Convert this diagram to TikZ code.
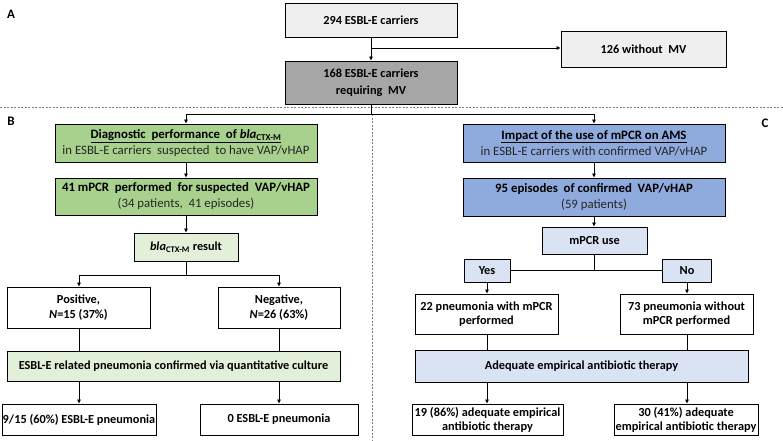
\documentclass[tikz,border=0pt]{standalone}
\usepackage{fontspec}
\setmainfont{Carlito}
\usetikzlibrary{arrows.meta,calc}
\definecolor{lgray}{HTML}{EFEFEF}
\definecolor{dgray}{HTML}{A6A6A6}
\definecolor{grn}{HTML}{A9D18E}
\definecolor{lgrn}{HTML}{E2F0D9}
\definecolor{blu}{HTML}{8FAADC}
\definecolor{lblu}{HTML}{DAE3F3}
\definecolor{subtxt}{HTML}{262626}
\tikzset{
  box/.style={draw=black, line width=1pt, align=center, inner sep=0pt, text=black,
    font=\bfseries\fontsize{12.3}{14}\selectfont},
  big/.style={font=\fontsize{12.8}{16}\selectfont},
  arr/.style={-{Triangle[length=4pt,width=3.5pt]}, line width=0.9pt},
  ln/.style={line width=0.9pt},
  sep/.style={draw=gray, line width=0.6pt, dash pattern=on 2pt off 1.5pt},
  lab/.style={font=\bfseries\fontsize{13}{15}\selectfont, text=black, inner sep=0pt},
}
\newcommand{\blaC}{\textit{bla}\textsubscript{CTX-M}}
\begin{document}
\begin{tikzpicture}[x=1pt,y=-1pt]
\useasboundingbox[fill=white] (0,0) rectangle (783,440);

% section labels
\node[lab] (la) at (11,14) {A};
\node[lab] (lb) at (11,121) {B};
\node[lab] (lc) at (765,123) {C};

% separators
\coordinate (sl) at (0,107);
\coordinate (sr) at (783,107);
\draw[sep] (sl) -- (sr);
\coordinate (vt) at (372,114);
\coordinate (vb) at (372,440);
\draw[sep] (vt) -- (vb);

% section A
\node[box, fill=lgray, minimum width=172pt, minimum height=34pt] (n294) at (371,20) {294 ESBL-E carriers};
\node[box, fill=lgray, minimum width=165pt, minimum height=36pt] (n126) at (643.5,49) {126 without~ MV};
\node[box, fill=dgray, minimum width=172pt, minimum height=43pt, font=\bfseries\fontsize{12.3}{17}\selectfont] (n168) at (371,82.5) {168 ESBL-E carriers\\requiring~ MV};

% section B
\node[box, fill=grn, big, minimum width=262pt, minimum height=38pt] (b1) at (186,143)
  {\textbf{\underline{Diagnostic~ performance~ of \blaC}}\\ \color{subtxt}\mdseries in ESBL-E carriers~ suspected~ to have VAP/vHAP};
\node[box, fill=grn, big, minimum width=262pt, minimum height=37pt] (b2) at (186,196.5)
  {\textbf{41 mPCR~ performed~ for suspected~ VAP/vHAP}\\ \color{subtxt}\mdseries (34 patients,~ 41 episodes)};
\node[box, fill=lgrn, minimum width=104pt, minimum height=28pt] (b3) at (186,247) {\blaC{} result};
\node[box, fill=white, minimum width=143pt, minimum height=41pt, font=\bfseries\fontsize{12.3}{15}\selectfont] (pos) at (78.5,307.5) {Positive,\\\textit{N}=15 (37\%)};
\node[box, fill=white, minimum width=122pt, minimum height=41pt, font=\bfseries\fontsize{12.3}{15}\selectfont] (neg) at (279,307.5) {Negative,\\\textit{N}=26 (63\%)};
\node[box, fill=lgrn, minimum width=333pt, minimum height=30pt] (esbl) at (173.5,366) {ESBL-E related pneumonia confirmed via quantitative culture};
\node[box, fill=white, minimum width=154pt, minimum height=31pt] (r1) at (79,419.5) {9/15 (60\%) ESBL-E pneumonia};
\node[box, fill=white, minimum width=158pt, minimum height=31pt] (r2) at (279,419.5) {0 ESBL-E pneumonia};

% section C
\node[box, fill=blu, big, minimum width=262pt, minimum height=38pt] (c1) at (594,143)
  {\textbf{\underline{Impact of the use of mPCR on AMS}}\\ \color{subtxt}\mdseries in ESBL-E carriers with confirmed VAP/vHAP};
\node[box, fill=blu, big, minimum width=262pt, minimum height=38pt] (c2) at (594,197)
  {\textbf{95 episodes~ of confirmed~ VAP/vHAP}\\ \color{subtxt}\mdseries (59 patients)};
\node[box, fill=lblu, minimum width=105pt, minimum height=27pt] (mp) at (594.5,240.5) {mPCR use};
\node[box, fill=lblu, minimum width=46pt, minimum height=23pt] (yes) at (487,270.5) {Yes};
\node[box, fill=lblu, minimum width=49pt, minimum height=23pt] (no) at (687,270.5) {No};
\node[box, fill=white, minimum width=143pt, minimum height=40pt] (p22) at (486.5,314) {22 pneumonia with mPCR\\performed};
\node[box, fill=white, minimum width=133pt, minimum height=40pt] (p73) at (686.5,314) {73 pneumonia without\\mPCR performed};
\node[box, fill=lblu, minimum width=333pt, minimum height=32pt] (adq) at (581.5,366) {Adequate empirical antibiotic therapy};
\node[box, fill=white, minimum width=151pt, minimum height=31pt] (a19) at (487.5,419.5) {19 (86\%) adequate empirical\\antibiotic therapy};
\node[box, fill=white, minimum width=144pt, minimum height=31pt] (a30) at (686,419.5) {30 (41\%) adequate\\empirical antibiotic therapy};

% connectors A
\draw[arr] (n294) -- (n168);
\coordinate (br) at (371,48);
\draw[arr] (br) -- (br -| n126.west);
\coordinate (sp) at (371,114);
\draw[ln] (n168.south) -- (sp);
\coordinate (spl) at (186,114);
\coordinate (spr) at (594,114);
\draw[ln] (spl) -- (spr);
\draw[arr] (spl) -- (b1.north);
\draw[arr] (spr) -- (c1.north);

% connectors B
\draw[arr] (b1) -- (b2);
\draw[arr] (b2) -- (b3);
\coordinate (bs) at (186,275);
\coordinate (bsl) at (79,275);
\coordinate (bsr) at (279,275);
\draw[ln] (b3.south) -- (bs);
\draw[ln] (bsl) -- (bsr);
\draw[arr] (bsl) -- (bsl |- pos.north);
\draw[arr] (bsr) -- (neg.north);
\draw[ln] (bsl |- pos.south) -- (bsl |- esbl.north);
\draw[ln] (neg.south) -- (neg.south |- esbl.north);
\draw[arr] (bsl |- esbl.south) -- (bsl |- r1.north);
\draw[arr] (bsr |- esbl.south) -- (r2.north);

% connectors C
\draw[arr] (c1) -- (c2);
\draw[arr] (c2.south) -- (c2.south |- mp.north);
\coordinate (cs) at (594,270.5);
\draw[ln] (mp.south -| cs) -- (cs);
\draw[ln] (yes.east) -- (no.west);
\draw[arr] (yes.south) -- (yes.south |- p22.north);
\draw[arr] (no.south) -- (no.south |- p73.north);
\draw[ln] (yes.south |- p22.south) -- (yes.south |- adq.north);
\draw[ln] (no.south |- p73.south) -- (no.south |- adq.north);
\draw[arr] (yes.south |- adq.south) -- (yes.south |- a19.north);
\draw[arr] (no.south |- adq.south) -- (no.south |- a30.north);
\end{tikzpicture}
\end{document}
